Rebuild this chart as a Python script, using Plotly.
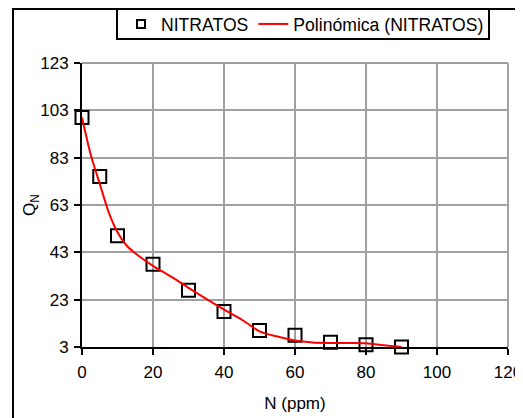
import plotly.graph_objects as go

# Data
n_ppm = [0, 5, 10, 20, 30, 40, 50, 60, 70, 80, 90]
q_n = [100, 75, 50, 38, 27, 18, 10, 8, 5, 4, 3]

trend_x = [0, 2.5, 5, 7.5, 10, 12.5, 15, 20, 25, 30, 35, 40, 45, 50, 55, 60, 65, 70, 75, 80, 85, 90]
trend_y = [100, 84, 72, 60, 51.5, 46, 42.6, 37.3, 32.8, 28, 23.3, 18.8, 14.6, 9.6, 7.4, 5.7, 4.9, 4.7, 4.7, 4.6, 3.7, 3]

x_ticks = [0, 20, 40, 60, 80, 100, 120]
y_ticks = [3, 23, 43, 63, 83, 103, 123]

FONT = "Liberation Sans, Arial, sans-serif"
FS = 17

fig = go.Figure()
fig.add_trace(go.Scatter(
    x=n_ppm, y=q_n, mode="markers", name="NITRATOS", showlegend=False,
    marker=dict(symbol="square-open", size=13, color="black", line=dict(width=2, color="black")),
    cliponaxis=False,
))
# legend-only entry with the small legend square
fig.add_trace(go.Scatter(
    x=[None], y=[None], mode="markers", name="NITRATOS",
    marker=dict(symbol="square-open", size=8, color="black", line=dict(width=2, color="black")),
))
fig.add_trace(go.Scatter(
    x=trend_x, y=trend_y, mode="lines", name="Polinómica (NITRATOS)",
    line=dict(color="red", width=2, shape="spline", smoothing=0.7),
    cliponaxis=False,
))

# page has an 8px body margin; work in page pixels and convert
OFF = 8
W, H = 515, 410
L, T = 74, 55
pw, ph = 426, 284
R = W - L - pw
B = H - T - ph

def px(xp):
    return (xp - OFF - L) / pw

def py(yp):
    return (H - B - (yp - OFF)) / ph

fig.update_layout(
    width=W, height=H,
    margin=dict(l=L, r=R, t=T, b=B, autoexpand=False),
    paper_bgcolor="white", plot_bgcolor="white",
    font=dict(family=FONT, size=FS, color="black"),
    showlegend=True,
    legend=dict(
        orientation="h", x=px(121), y=py(24), xanchor="left", yanchor="middle",
        borderwidth=0, bgcolor="rgba(0,0,0,0)",
        font=dict(size=17.6), itemwidth=30, tracegroupgap=0,
    ),
    xaxis=dict(
        range=[0, 120], tickvals=x_ticks, ticktext=[str(v) for v in x_ticks],
        showgrid=True, gridcolor="#a0a0a0", gridwidth=2,
        showline=True, linecolor="black", linewidth=2,
        ticks="outside", ticklen=6, tickwidth=2, tickcolor="black",
        ticklabelstandoff=3,
        zeroline=False,
        title=dict(text="N (ppm)", standoff=16, font=dict(size=FS)),
    ),
    yaxis=dict(
        range=[3, 123], tickvals=y_ticks, ticktext=[str(v) for v in y_ticks],
        showgrid=True, gridcolor="#a0a0a0", gridwidth=2,
        showline=True, linecolor="black", linewidth=2,
        ticks="outside", ticklen=6, tickwidth=2, tickcolor="black",
        ticklabelstandoff=2,
        zeroline=False,
        title=dict(text="Q<sub>N</sub>", standoff=0, font=dict(size=FS)),
    ),
    shapes=[
        # outer chart border
        dict(type="rect", xref="paper", yref="paper",
             x0=px(13), x1=px(520), y0=py(440), y1=py(9),
             line=dict(color="black", width=2), layer="above"),
        # legend box
        dict(type="rect", xref="paper", yref="paper",
             x0=px(117), x1=px(489), y0=py(39), y1=py(9),
             line=dict(color="black", width=2), fillcolor="rgba(0,0,0,0)", layer="above"),
        # top and right plot-area edges (gray, like gridlines)
        dict(type="line", xref="paper", yref="paper",
             x0=0, x1=1, y0=1, y1=1, line=dict(color="#a0a0a0", width=2), layer="below"),
        dict(type="line", xref="paper", yref="paper",
             x0=1, x1=1, y0=0, y1=1, line=dict(color="#a0a0a0", width=2), layer="below"),
    ],
)

fig.write_html("out.html")
